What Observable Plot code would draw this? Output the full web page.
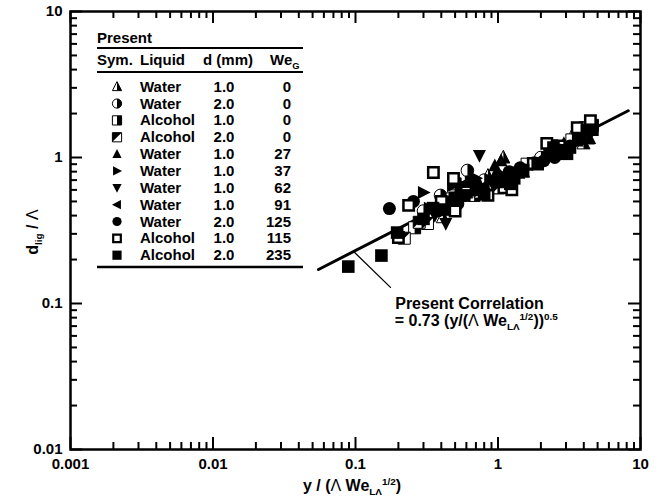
<!DOCTYPE html>
<html><head><meta charset="utf-8">
<script src="https://cdn.jsdelivr.net/npm/d3@7"></script>
<script src="https://cdn.jsdelivr.net/npm/@observablehq/plot@0.6"></script>
</head><body style="margin:0"><div id="chart"></div>
<script>
// ---------- data ----------
const xMajor = [0.001, 0.01, 0.1, 1, 10];
const yMajor = [0.01, 0.1, 1, 10];
const minorMult = [2, 3, 4, 5, 6, 7, 8, 9];

const legendLiquid = ["Water","Water","Alcohol","Alcohol","Water","Water","Water","Water","Water","Alcohol","Alcohol"];
const legendD = ["1.0","2.0","1.0","2.0","1.0","1.0","1.0","1.0","2.0","1.0","2.0"];
const legendWe = ["0","0","0","0","27","37","62","91","125","115","235"];

// Water 1.0 We 0 (half triangle)
const s1x = [0.41, 0.62, 1.09, 0.85, 1.5, 2.3, 3.4, 3.98, 4.3, 0.55];
const s1y = [0.39, 0.56, 1.0, 0.75, 0.8, 1.15, 1.48, 1.25, 1.35, 0.6];
// Water 2.0 We 0 (half circle)
const s2x = [0.395, 0.61, 0.30, 0.45, 0.8, 0.7, 1.3, 2.0, 2.6, 0.52];
const s2y = [0.55, 0.815, 0.43, 0.52, 0.7, 0.62, 0.78, 1.0, 1.05, 0.48];
// Alcohol 1.0 We 0 (half square)
const s3x = [0.26, 0.5, 0.9, 1.1, 1.6, 2.4, 3.3, 4.6, 4.1, 0.68];
const s3y = [0.33, 0.66, 0.62, 0.66, 0.9, 1.2, 1.32, 1.66, 1.6, 0.55];
// Alcohol 2.0 We 0 (diagonal square)
const s4x = [0.32, 0.28, 0.22, 0.55, 0.45, 0.75, 1.0, 0.65];
const s4y = [0.353, 0.36, 0.28, 0.55, 0.46, 0.58, 0.62, 0.68];
// Water 1.0 We 27 (up triangle)
const s5x = [0.38, 0.6, 0.95, 1.05, 1.4, 3.6, 4.4, 2.9];
const s5y = [0.48, 0.62, 0.88, 0.95, 0.78, 1.3, 1.35, 1.25];
// Water 1.0 We 37 (right triangle)
const s6x = [0.30, 0.48, 0.7, 0.33, 1.2];
const s6y = [0.575, 0.64, 0.72, 0.45, 0.75];
// Water 1.0 We 62 (down triangle)
const s7x = [0.741, 0.43, 0.36, 0.55, 0.9, 0.62];
const s7y = [1.03, 0.353, 0.4, 0.5, 0.68, 0.6];
// Water 1.0 We 91 (left triangle)
const s8x = [0.42, 0.58, 0.8, 1.0, 0.5];
const s8y = [0.5, 0.66, 0.64, 0.7, 0.47];
// Water 2.0 We 125 (filled circle)
const s9x = [0.173, 0.255, 0.38, 0.55, 0.7, 1.0, 1.43, 2.1, 2.5, 1.8, 1.2, 3.2];
const s9y = [0.447, 0.5, 0.43, 0.62, 0.66, 0.75, 0.85, 0.95, 1.0, 0.92, 0.8, 1.2];
// Alcohol 1.0 We 115 (open square)
const s10x = [0.352, 0.236, 0.2, 0.487, 0.4, 0.6, 0.85, 1.1, 1.25, 1.77, 2.2, 2.7, 3.6, 4.45, 2.5, 0.5];
const s10y = [0.79, 0.47, 0.283, 0.718, 0.5, 0.58, 0.55, 0.62, 0.6, 0.91, 1.25, 1.2, 1.6, 1.79, 1.12, 0.43];
// Alcohol 2.0 We 235 (filled square)
const s11x = [0.089, 0.152, 0.196, 0.30, 0.35, 0.42, 0.5, 0.58, 0.7, 0.8, 1.0, 1.22, 1.3, 1.5, 1.9, 2.3, 2.45, 2.75, 3.05, 3.2, 3.8, 4.2, 4.6];
const s11y = [0.179, 0.213, 0.306, 0.38, 0.45, 0.44, 0.53, 0.55, 0.6, 0.56, 0.68, 0.66, 0.72, 0.82, 0.9, 1.05, 1.17, 1.12, 1.06, 1.17, 1.35, 1.53, 1.55];

// correlation line and leader line endpoints
const corrX = [0.055, 8.2];
const corrY = [0.171, 2.09];
const leadX = [0.097, 0.176];
const leadY = [0.227, 0.129];
const annX = 0.19, annY1 = 0.1, annY2 = 0.0753;

{
// ---------- symbols ----------
const rOf = s => Math.sqrt(s / Math.PI);
const poly = (c, pts) => { c.moveTo(pts[0][0], pts[0][1]); for (let i = 1; i < pts.length; i++) c.lineTo(pts[i][0], pts[i][1]); c.closePath(); };
const symSquare = {draw(c, s){ const r = rOf(s); c.rect(-r, -r, 2*r, 2*r); }};
const symSquareRight = {draw(c, s){ const r = rOf(s); c.rect(0, -r, r, 2*r); }};
const symSquareUL = {draw(c, s){ const r = rOf(s); poly(c, [[-r,-r],[r,-r],[-r,r]]); }};
const symCircle = {draw(c, s){ const r = rOf(s); c.moveTo(r, 0); c.arc(0, 0, r, 0, 2*Math.PI); c.closePath(); }};
const symCircleRight = {draw(c, s){ const r = rOf(s); c.moveTo(0, -r); c.arc(0, 0, r, -Math.PI/2, Math.PI/2); c.closePath(); }};
const symTriUp = {draw(c, s){ const r = rOf(s); poly(c, [[0,-1.1*r],[r,0.85*r],[-r,0.85*r]]); }};
const symTriUpRight = {draw(c, s){ const r = rOf(s); poly(c, [[0,-1.1*r],[r,0.85*r],[0,0.85*r]]); }};
const symTriDown = {draw(c, s){ const r = rOf(s); poly(c, [[0,1.1*r],[r,-0.85*r],[-r,-0.85*r]]); }};
const symTriRight = {draw(c, s){ const r = rOf(s); poly(c, [[1.1*r,0],[-0.85*r,-r],[-0.85*r,r]]); }};
const symTriLeft = {draw(c, s){ const r = rOf(s); poly(c, [[-1.1*r,0],[0.85*r,-r],[0.85*r,r]]); }};

const styles = [
  {back: symTriUp, front: symTriUpRight, r: 6.5},
  {back: symCircle, front: symCircleRight, r: 6.3},
  {back: symSquare, front: symSquareRight, r: 6.0},
  {back: symSquare, front: symSquareUL, r: 6.0},
  {front: symTriUp, r: 6.5},
  {front: symTriRight, r: 6.5},
  {front: symTriDown, r: 6.5},
  {front: symTriLeft, r: 6.5},
  {front: symCircle, r: 6.5},
  {open: symSquare, r: 5.2},
  {front: symSquare, r: 6.3}
];
const seriesX = [s1x,s2x,s3x,s4x,s5x,s6x,s7x,s8x,s9x,s10x,s11x];
const seriesY = [s1y,s2y,s3y,s4y,s5y,s6y,s7y,s8y,s9y,s10y,s11y];

// ---------- layout ----------
const PW = 668, PH = 498, mL = 70, mR = 28, mT = 11, mB = 49;
const fh = PH - mT - mB, fw = PW - mL - mR;
const FONT = "'Liberation Sans', Arial, sans-serif";

const xMinor = xMajor.slice(0, -1).flatMap(d => minorMult.map(m => d * m));
const yMinor = yMajor.slice(0, -1).flatMap(d => minorMult.map(m => d * m));

const MAJ = 12, MIN = 7;
const tk = {stroke: "black", strokeWidth: 2};
const marks = [];
marks.push(Plot.tickX(xMajor, {...tk, x: d => d, insetTop: fh - MAJ}));
marks.push(Plot.tickX(xMajor, {...tk, x: d => d, insetBottom: fh - MAJ}));
marks.push(Plot.tickX(xMinor, {...tk, x: d => d, insetTop: fh - MIN}));
marks.push(Plot.tickX(xMinor, {...tk, x: d => d, insetBottom: fh - MIN}));
marks.push(Plot.tickY(yMajor, {...tk, y: d => d, insetRight: fw - MAJ}));
marks.push(Plot.tickY(yMajor, {...tk, y: d => d, insetLeft: fw - MAJ}));
marks.push(Plot.tickY(yMinor, {...tk, y: d => d, insetRight: fw - MIN}));
marks.push(Plot.tickY(yMinor, {...tk, y: d => d, insetLeft: fw - MIN}));
marks.push(Plot.line(corrX.map((x, i) => ({x, y: corrY[i]})), {x: "x", y: "y", stroke: "black", strokeWidth: 3}));
marks.push(Plot.line(leadX.map((x, i) => ({x, y: leadY[i]})), {x: "x", y: "y", stroke: "black", strokeWidth: 1.3}));

seriesX.forEach((sx, k) => {
  const data = sx.map((x, i) => ({x, y: seriesY[k][i]}));
  const st = styles[k];
  if (st.back) {
    marks.push(Plot.dot(data, {x: "x", y: "y", symbol: st.back, r: st.r, fill: "white", stroke: "black", strokeWidth: 1}));
    marks.push(Plot.dot(data, {x: "x", y: "y", symbol: st.front, r: st.r, fill: "black", stroke: "none"}));
  } else if (st.open) {
    marks.push(Plot.dot(data, {x: "x", y: "y", symbol: st.open, r: st.r, fill: "white", stroke: "black", strokeWidth: 2.5}));
  } else {
    marks.push(Plot.dot(data, {x: "x", y: "y", symbol: st.front, r: st.r, fill: "black", stroke: "none"}));
  }
});

marks.push(Plot.text(["Present Correlation"], {x: () => annX, y: () => annY1, text: d => d, textAnchor: "start", fontSize: 16, fontWeight: "bold", fill: "black"}));
marks.push(Plot.frame({stroke: "black", strokeWidth: 2.5}));

const svg = Plot.plot({
  width: PW, height: PH,
  marginLeft: mL, marginRight: mR, marginTop: mT, marginBottom: mB,
  style: {fontFamily: FONT, fontSize: "15px", fontWeight: "bold", background: "white", color: "black"},
  x: {type: "log", domain: [0.001, 10], ticks: xMajor, tickFormat: d => String(d), tickSize: 0, tickPadding: 9, label: null},
  y: {type: "log", domain: [0.01, 10], ticks: yMajor, tickFormat: d => String(d), tickSize: 0, tickPadding: 8, label: null},
  marks
});
document.getElementById("chart").appendChild(svg);

const scX = svg.scale("x"), scY = svg.scale("y");
const X = v => scX.apply(v), Y = v => scY.apply(v);

// ---------- rich text helpers ----------
const gTxt = d3.select(svg).append("g").attr("font-family", FONT).attr("font-weight", "bold").attr("fill", "black").attr("text-anchor", "start");
function rich(parent, x, y, parts, size, anchor, transform) {
  const t = parent.append("text").attr("x", x).attr("y", y).attr("font-size", size).attr("text-anchor", anchor || "start");
  if (transform) t.attr("transform", transform);
  let shift = 0;
  parts.forEach(p => {
    let target = 0, fs = size;
    if (p.sub) { target = size * 0.25; fs = size * 0.62; }
    if (p.sup) { target = -size * 0.4; fs = size * 0.62; }
    const ts = t.append("tspan").attr("dy", target - shift).attr("font-size", fs).text(p.t);
    if (p.normal) ts.attr("font-weight", "normal");
    shift = target;
  });
  return t;
}

rich(gTxt, X(annX), Y(annY2) + 5, [
  {t: "= 0.73 (y/("}, {t: "\u039B", normal: true}, {t: " We"}, {t: "L\u039B", sub: true}, {t: "1/2", sup: true}, {t: "))"}, {t: "0.5", sup: true}
], 16, "start");

rich(gTxt, 352, 491, [
  {t: "y / ("}, {t: "\u039B", normal: true}, {t: " We"}, {t: "L\u039B", sub: true}, {t: "1/2", sup: true}, {t: ")"}
], 16, "middle");
rich(gTxt, 0, 0, [
  {t: "d"}, {t: "lig", sub: true}, {t: " / "}, {t: "\u039B", normal: true}
], 16, "middle", "translate(38,232) rotate(-90)");

// ---------- legend table ----------
const gLeg = gTxt.append("g").attr("text-anchor", "start");
const lx0 = 97, lx1 = 303;
const txt = (x, y, s, anchor) => gLeg.append("text").attr("x", x).attr("y", y).attr("font-size", 15).attr("text-anchor", anchor || "start").text(s);
const hline = (y, w) => gLeg.append("line").attr("x1", lx0).attr("x2", lx1).attr("y1", y).attr("y2", y).attr("stroke", "black").attr("stroke-width", w);
txt(lx0, 43, "Present");
hline(48, 2);
txt(lx0, 65, "Sym.");
txt(140, 65, "Liquid");
txt(203, 65, "d (mm)");
rich(gLeg, 270, 65, [{t: "We"}, {t: "G", sub: true}], 15, "start");
hline(72, 2);
const rowY0 = 86.7, rowDy = 16.85;
legendLiquid.forEach((liq, i) => {
  const cy = rowY0 + i * rowDy;
  const st = styles[i];
  const lr = 4.6;
  const sz = lr * lr * Math.PI;
  const tr = `translate(117,${cy})`;
  if (st.back) {
    gLeg.append("path").attr("transform", tr).attr("d", d3.symbol(st.back, sz)()).attr("fill", "white").attr("stroke", "black").attr("stroke-width", 1);
    gLeg.append("path").attr("transform", tr).attr("d", d3.symbol(st.front, sz)()).attr("fill", "black");
  } else if (st.open) {
    gLeg.append("path").attr("transform", tr).attr("d", d3.symbol(st.open, 3.8 * 3.8 * Math.PI)()).attr("fill", "white").attr("stroke", "black").attr("stroke-width", 2.2);
  } else {
    gLeg.append("path").attr("transform", tr).attr("d", d3.symbol(st.front, sz)()).attr("fill", "black");
  }
  txt(140, cy + 5, liq);
  txt(224, cy + 5, legendD[i], "middle");
  txt(291, cy + 5, legendWe[i], "end");
});
hline(267, 2.5);
}
</script>
</body></html>
